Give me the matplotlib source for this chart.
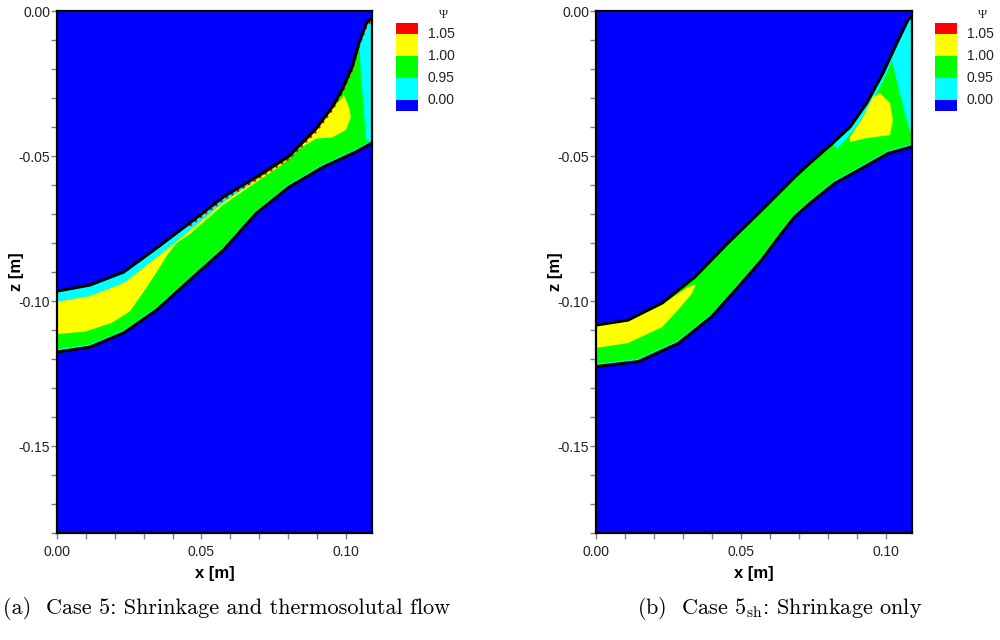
import numpy as np
import matplotlib
matplotlib.use("Agg")
import matplotlib.pyplot as plt
from matplotlib.ticker import MultipleLocator, FormatStrFormatter

plt.rcParams['font.family'] = ['Liberation Sans', 'DejaVu Sans']
plt.rcParams['mathtext.fontset'] = 'cm'

# Psi classes, bottom to top, and the level labels between them
class_colors = ['#0000FF', '#00FFFF', '#00FF00', '#FFFF00', '#FF0000']
level_labels = ['0.00', '0.95', '1.00', '1.05']

# ---------------- Case 5: shrinkage and thermosolutal flow ----------------
a_top_x = [0.0, 0.0114, 0.0231, 0.0345, 0.0459, 0.0576, 0.0690, 0.0803,
           0.0897, 0.0952, 0.0986, 0.1021, 0.1045, 0.1072, 0.1090]
a_top_z = [-0.0966, -0.0945, -0.0900, -0.0817, -0.0731, -0.0641, -0.0572, -0.0500,
           -0.0405, -0.0331, -0.0272, -0.0193, -0.0110, -0.0038, -0.0025]
a_bot_x = [0.0, 0.0114, 0.0231, 0.0345, 0.0459, 0.0576, 0.0690, 0.0803,
           0.0921, 0.1034, 0.1090]
a_bot_z = [-0.1176, -0.1159, -0.1110, -0.1031, -0.0928, -0.0824, -0.0697, -0.0607,
           -0.0538, -0.0486, -0.0455]
# lower edge of the cyan skin along the upper boundary
a_cyan_x = [0.0, 0.0114, 0.0231, 0.0345, 0.0459, 0.0576, 0.0690]
a_cyan_z = [-0.1003, -0.0983, -0.0938, -0.0850, -0.0758, -0.0660, -0.0582]
# yellow zone: upper edge then lower edge
a_yel_up_x = [0.0, 0.0114, 0.0231, 0.0345, 0.0459, 0.0576, 0.0690, 0.0803, 0.0897, 0.0952, 0.0993]
a_yel_up_z = [-0.1003, -0.0983, -0.0938, -0.0850, -0.0758, -0.0660, -0.0582, -0.0508, -0.0412, -0.0340, -0.0290]
a_yel_lo_x = [0.0, 0.0100, 0.0190, 0.0252, 0.0300, 0.0345, 0.0379, 0.0414, 0.0459, 0.0576, 0.0690,
              0.0779, 0.0838, 0.0897, 0.0952, 0.1000, 0.1017, 0.1010, 0.0993]
a_yel_lo_z = [-0.1114, -0.1105, -0.1075, -0.1036, -0.0968, -0.0900, -0.0845, -0.0800, -0.0770, -0.0668, -0.0590,
              -0.0530, -0.0475, -0.0440, -0.0436, -0.0410, -0.0366, -0.0331, -0.0290]
# cyan wedge against the right wall
a_wall_x = [0.1045, 0.1072, 0.1090, 0.1090, 0.1069, 0.1062, 0.1052, 0.1048]
a_wall_z = [-0.0110, -0.0038, -0.0025, -0.0448, -0.0445, -0.0341, -0.0228, -0.0134]

# ---------------- Case 5sh: shrinkage only ----------------
b_top_x = [0.0, 0.0110, 0.0228, 0.0341, 0.0455, 0.0572, 0.0686, 0.0738,
           0.0817, 0.0876, 0.0934, 0.0990, 0.1038, 0.1076, 0.1090]
b_top_z = [-0.1083, -0.1066, -0.1007, -0.0917, -0.0800, -0.0686, -0.0572, -0.0524,
           -0.0455, -0.0400, -0.0317, -0.0214, -0.0110, -0.0031, -0.0017]
b_bot_x = [0.0, 0.0146, 0.0284, 0.0399, 0.0491, 0.0571, 0.0640, 0.0686, 0.0744,
           0.0824, 0.0916, 0.1008, 0.1090]
b_bot_z = [-0.1226, -0.1209, -0.1146, -0.1054, -0.0951, -0.0859, -0.0767, -0.0709, -0.0658,
           -0.0594, -0.0543, -0.0491, -0.0468]
b_yel_x = [0.0, 0.0110, 0.0228, 0.0317, 0.0345, 0.0330, 0.0283, 0.0228, 0.0110, 0.0]
b_yel_z = [-0.1086, -0.1069, -0.1012, -0.0952, -0.0943, -0.0975, -0.1031, -0.1090, -0.1145, -0.1162]
b_cyan_x = [0.0817, 0.0876, 0.0934, 0.0990, 0.1038, 0.1076, 0.1090, 0.1090,
            0.1072, 0.1048, 0.1020, 0.1003, 0.0975, 0.0940, 0.0900, 0.0860, 0.0830]
b_cyan_z = [-0.0455, -0.0400, -0.0317, -0.0214, -0.0110, -0.0031, -0.0017, -0.0434,
            -0.0376, -0.0283, -0.0169, -0.0215, -0.0270, -0.0335, -0.0395, -0.0445, -0.0475]
b_blob_x = [0.0955, 0.0979, 0.1014, 0.1024, 0.1014, 0.0934, 0.0876, 0.0876, 0.0921]
b_blob_z = [-0.0297, -0.0283, -0.0317, -0.0376, -0.0428, -0.0438, -0.0452, -0.0434, -0.0366]

BLUE, CYAN, GREEN, YELLOW, RED = class_colors
X_MAX, Z_MIN = 0.109, -0.18


def style_axes(ax):
    ax.set_xlim(0, X_MAX)
    ax.set_ylim(Z_MIN, 0)
    ax.set_facecolor(BLUE)
    ax.xaxis.set_major_locator(MultipleLocator(0.05))
    ax.xaxis.set_minor_locator(MultipleLocator(0.01))
    ax.yaxis.set_major_locator(MultipleLocator(0.05))
    ax.yaxis.set_minor_locator(MultipleLocator(0.01))
    ax.xaxis.set_major_formatter(FormatStrFormatter('%.2f'))
    ax.yaxis.set_major_formatter(FormatStrFormatter('%.2f'))
    ax.tick_params(which='both', direction='out', length=4.3, width=1.0,
                   color='#808080', labelsize=10, labelcolor='#222222')
    ax.tick_params(axis='x', pad=4.5)
    ax.tick_params(axis='y', pad=0.5)
    for s in ax.spines.values():
        s.set_linewidth(1.6)
        s.set_color('black')
    ax.set_xlabel('x [m]', fontsize=12, fontweight='bold', labelpad=5)
    ax.text(-0.127, 0.5, 'z [m]', transform=ax.transAxes, rotation=90,
            ha='center', va='center', fontsize=12, fontweight='bold')


def band(ax, tx, tz, bx, bz, color):
    ax.fill(np.r_[tx, bx[::-1]], np.r_[tz, bz[::-1]], color=color, lw=0)


def outline(ax, tx, tz, bx, bz):
    # thin cyan rim just inside the lower boundary
    ax.plot(bx, np.asarray(bz) + 0.0007, color=CYAN, lw=1.0)
    ax.plot(tx, tz, color='black', lw=2.2, solid_capstyle='butt')
    ax.plot(bx, bz, color='black', lw=2.2, solid_capstyle='butt')


def legend_box(fig, left_px):
    lax = fig.add_axes([left_px / 1000, 1 - 111 / 640, 22 / 1000, 88 / 640])
    heights = [0.5, 1, 1, 1, 0.5]
    bottoms = np.cumsum([0] + heights[:-1])
    lax.bar(0, heights, bottom=bottoms, width=1, color=class_colors, lw=0)
    lax.set_xlim(-0.5, 0.5)
    lax.set_ylim(0, 4)
    lax.axis('off')
    for i, lab in enumerate(level_labels):
        lax.text(1.45, bottoms[i + 1], lab, transform=lax.get_yaxis_transform(),
                 ha='left', va='center', fontsize=10, color='#222222')
    lax.text(2.14, 4.36, 'Ψ', transform=lax.get_yaxis_transform(), ha='center',
             va='center', fontsize=9, family=['Liberation Serif', 'DejaVu Serif'],
             color='#222222')


fig = plt.figure(figsize=(10, 6.4), dpi=100)
ax_a = fig.add_axes([0.057, 1 - 533 / 640, 0.315, 522 / 640])
ax_b = fig.add_axes([0.596, 1 - 533 / 640, 0.316, 522 / 640])

# panel (a)
style_axes(ax_a)
band(ax_a, a_top_x, a_top_z, a_bot_x, a_bot_z, GREEN)
n = len(a_cyan_x)
band(ax_a, a_top_x[:n], a_top_z[:n], a_cyan_x, a_cyan_z, CYAN)
band(ax_a, a_yel_up_x, a_yel_up_z, a_yel_lo_x, a_yel_lo_z, YELLOW)
ax_a.fill(a_wall_x, a_wall_z, color=CYAN, lw=0)
ax_a.plot(a_top_x[4:], np.asarray(a_top_z[4:]) - 0.0009, color=RED, lw=1.8,
          linestyle=(0, (1.0, 1.6)))
outline(ax_a, a_top_x, a_top_z, a_bot_x, a_bot_z)

# panel (b)
style_axes(ax_b)
band(ax_b, b_top_x, b_top_z, b_bot_x, b_bot_z, GREEN)
ax_b.fill(b_yel_x, b_yel_z, color=YELLOW, lw=0)
ax_b.fill(b_cyan_x, b_cyan_z, color=CYAN, lw=0)
ax_b.fill(b_blob_x, b_blob_z, color=YELLOW, lw=0)
outline(ax_b, b_top_x, b_top_z, b_bot_x, b_bot_z)

legend_box(fig, 396)
legend_box(fig, 935)

cap_kw = dict(ha='left', va='center', fontsize=16, family='cmr10')
fig.text(0.003, 0.049, '(a)  Case 5: Shrinkage and thermosolutal flow', **cap_kw)
fig.text(0.637, 0.049, r'(b)  Case 5$_{\rm sh}$: Shrinkage only', **cap_kw)

fig.savefig('out.png', dpi=100)
